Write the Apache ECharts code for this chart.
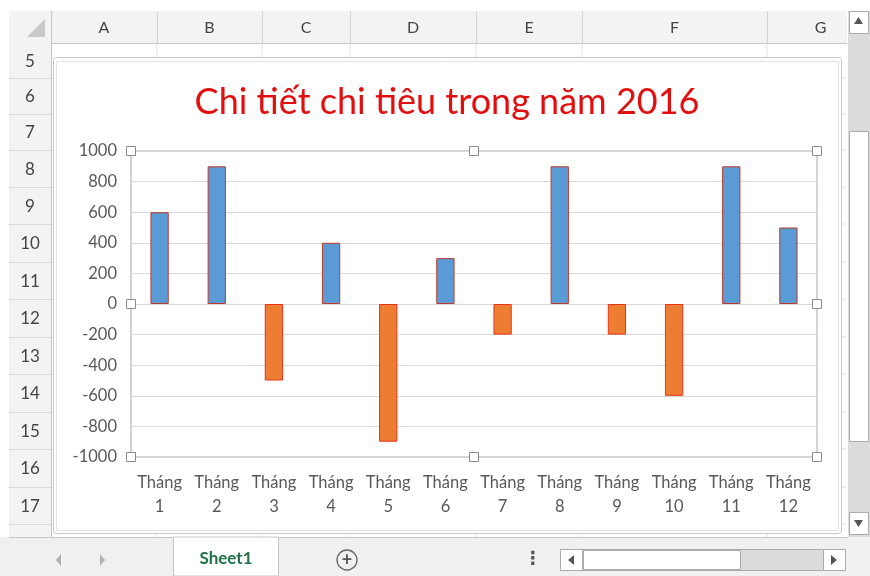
<!DOCTYPE html>
<html>
<head>
<meta charset="utf-8">
<script src="https://cdn.jsdelivr.net/npm/echarts@6/dist/echarts.min.js"></script>
<style>
  html, body { margin: 0; padding: 0; background: #fff; }
  #chart { width: 870px; height: 576px; }
</style>
</head>
<body>
<div id="chart"></div>
<script>
// du lieu bieu do
var months = ['Tháng\n1', 'Tháng\n2', 'Tháng\n3', 'Tháng\n4', 'Tháng\n5', 'Tháng\n6',
  'Tháng\n7', 'Tháng\n8', 'Tháng\n9', 'Tháng\n10', 'Tháng\n11', 'Tháng\n12'];
var values = [600, 900, -500, 400, -900, 300, -200, 900, -200, -600, 900, 500];
var chartTitle = 'Chi tiết chi tiêu trong năm 2016';

// khung bang tinh phia sau
var colNames = ['A', 'B', 'C', 'D', 'E', 'F', 'G'];
var rowNames = ['5', '6', '7', '8', '9', '10', '11', '12', '13', '14', '15', '16', '17'];
var sheetName = 'Sheet1';

var colEdges = [51, 157, 262, 350, 476, 582, 767, 846];
var rowEdges = [43, 78, 114, 150, 187, 224, 262, 299, 337, 374, 412, 449, 487, 524, 537];

var FONT = 'Lato, "Open Sans", sans-serif';

/**mau cot: duong xanh, am cam*/
var barData = values.map(function (v) {
  return {
    value: v,
    itemStyle: v >= 0
      ? { color: '#5B9BD5', borderColor: '#C0392B', borderWidth: 1 }
      : { color: '#ED7D31', borderColor: '#E8321A', borderWidth: 1 }
  };
});

var els = [];
// nen luoi o
for (var i = 1; i < colEdges.length - 1; i++) {
  els.push({ type: 'line', z: 0, shape: { x1: colEdges[i], y1: 43, x2: colEdges[i], y2: 537 },
    style: { stroke: '#E1E1E1', lineWidth: 1 } });
}
for (var j = 1; j < rowEdges.length - 1; j++) {
  els.push({ type: 'line', z: 0, shape: { x1: 51, y1: rowEdges[j], x2: 846, y2: rowEdges[j] },
    style: { stroke: '#E1E1E1', lineWidth: 1 } });
}
// tieu de cot
els.push({ type: 'rect', z: 1, shape: { x: 9, y: 11, width: 838, height: 32 },
  style: { fill: '#F3F3F3', stroke: null } });
els.push({ type: 'line', z: 1, shape: { x1: 9, y1: 43.5, x2: 847, y2: 43.5 },
  style: { stroke: '#C6C6C6', lineWidth: 1 } });
els.push({ type: 'polygon', z: 1, shape: { points: [[45, 19], [45, 37], [27, 37]] },
  style: { fill: '#C9C9C9' } });
for (var c = 0; c < colNames.length; c++) {
  els.push({ type: 'line', z: 1, shape: { x1: colEdges[c] + 0.5, y1: 11, x2: colEdges[c] + 0.5, y2: 43 },
    style: { stroke: '#D4D4D4', lineWidth: 1 } });
  els.push({ type: 'text', z: 2, style: {
    text: colNames[c], x: (colEdges[c] + colEdges[c + 1]) / 2 + (c === 6 ? 14 : 0), y: 28,
    textAlign: 'center', textVerticalAlign: 'middle', fill: '#444', font: '16px ' + FONT } });
}
// tieu de hang
els.push({ type: 'rect', z: 1, shape: { x: 9, y: 43, width: 42, height: 494 },
  style: { fill: '#F3F3F3', stroke: null } });
els.push({ type: 'line', z: 1, shape: { x1: 51.5, y1: 11, x2: 51.5, y2: 537 },
  style: { stroke: '#C6C6C6', lineWidth: 1 } });
for (var r = 0; r < rowEdges.length - 1; r++) {
  els.push({ type: 'line', z: 1, shape: { x1: 9, y1: rowEdges[r + 1] + 0.5, x2: 51, y2: rowEdges[r + 1] + 0.5 },
    style: { stroke: '#DADADA', lineWidth: 1 } });
  if (r < rowNames.length) {
    els.push({ type: 'text', z: 2, style: {
      text: rowNames[r], x: 30, y: (rowEdges[r] + rowEdges[r + 1]) / 2 + 1,
      textAlign: 'center', textVerticalAlign: 'middle', fill: '#444', font: '17px ' + FONT } });
  }
}
// thanh cuon doc
els.push({ type: 'rect', z: 1, shape: { x: 848, y: 11, width: 22, height: 526 },
  style: { fill: '#DCDCDC', stroke: null } });
els.push({ type: 'rect', z: 2, shape: { x: 849.5, y: 11.5, width: 19, height: 22 },
  style: { fill: '#fff', stroke: '#ABABAB' } });
els.push({ type: 'polygon', z: 3, shape: { points: [[854, 24], [863, 24], [858.5, 17]] },
  style: { fill: '#555' } });
els.push({ type: 'rect', z: 2, shape: { x: 849.5, y: 131.5, width: 19, height: 310 },
  style: { fill: '#fff', stroke: '#ABABAB' } });
els.push({ type: 'rect', z: 2, shape: { x: 849.5, y: 512.5, width: 19, height: 22 },
  style: { fill: '#fff', stroke: '#ABABAB' } });
els.push({ type: 'polygon', z: 3, shape: { points: [[854, 520], [863, 520], [858.5, 527]] },
  style: { fill: '#555' } });
// thanh duoi
els.push({ type: 'rect', z: 1, shape: { x: 0, y: 537, width: 870, height: 39 },
  style: { fill: '#F0F0F0', stroke: null } });
els.push({ type: 'line', z: 1, shape: { x1: 9, y1: 537.5, x2: 848, y2: 537.5 },
  style: { stroke: '#C6C6C6', lineWidth: 1 } });
els.push({ type: 'polygon', z: 2, shape: { points: [[61, 554], [61, 566], [56, 560]] },
  style: { fill: '#B0B0B0' } });
els.push({ type: 'polygon', z: 2, shape: { points: [[100, 554], [100, 566], [105, 560]] },
  style: { fill: '#B0B0B0' } });
els.push({ type: 'rect', z: 2, shape: { x: 173.5, y: 537, width: 105, height: 39 },
  style: { fill: '#fff', stroke: '#C6C6C6' } });
els.push({ type: 'text', z: 3, style: { text: sheetName, x: 226, y: 559,
  textAlign: 'center', textVerticalAlign: 'middle', fill: '#217346', font: 'bold 17px ' + FONT } });
els.push({ type: 'circle', z: 2, shape: { cx: 347, cy: 560, r: 10 },
  style: { fill: 'none', stroke: '#666', lineWidth: 1.3 } });
els.push({ type: 'text', z: 3, style: { text: '+', x: 347, y: 560,
  textAlign: 'center', textVerticalAlign: 'middle', fill: '#555', font: 'bold 18px ' + FONT } });
els.push({ type: 'text', z: 3, style: { text: '⋮', x: 533, y: 559,
  textAlign: 'center', textVerticalAlign: 'middle', fill: '#555', font: 'bold 18px "DejaVu Sans"' } });
els.push({ type: 'rect', z: 2, shape: { x: 560.5, y: 549.5, width: 285, height: 21 },
  style: { fill: '#DCDCDC', stroke: '#ABABAB' } });
els.push({ type: 'rect', z: 3, shape: { x: 560.5, y: 549.5, width: 22, height: 21 },
  style: { fill: '#fff', stroke: '#ABABAB' } });
els.push({ type: 'polygon', z: 4, shape: { points: [[574, 555], [574, 565], [568, 560]] },
  style: { fill: '#555' } });
els.push({ type: 'rect', z: 3, shape: { x: 583.5, y: 550.5, width: 157, height: 19 },
  style: { fill: '#fff', stroke: '#ABABAB' } });
els.push({ type: 'rect', z: 3, shape: { x: 823.5, y: 549.5, width: 22, height: 21 },
  style: { fill: '#fff', stroke: '#ABABAB' } });
els.push({ type: 'polygon', z: 4, shape: { points: [[831, 555], [831, 565], [837, 560]] },
  style: { fill: '#555' } });
// khung doi tuong bieu do
els.push({ type: 'rect', z: 5, shape: { x: 53.5, y: 57.5, width: 788, height: 476, r: 3 },
  style: { fill: '#fff', stroke: '#C8C8C8', lineWidth: 1 } });
els.push({ type: 'rect', z: 5, shape: { x: 56.5, y: 61.5, width: 782, height: 469 },
  style: { fill: 'none', stroke: '#E2E2E2', lineWidth: 1 } });
// nut chon vung ve
var hx = [131, 474, 817], hy = [151, 304, 457];
for (var a = 0; a < 3; a++) {
  for (var b = 0; b < 3; b++) {
    if (a === 1 && b === 1) continue;
    els.push({ type: 'rect', z: 200, shape: { x: hx[a] - 4.5, y: hy[b] - 4.5, width: 9, height: 9 },
      style: { fill: '#fff', stroke: '#8C8C8C', lineWidth: 1 } });
  }
}
// tieu de bieu do
els.push({ type: 'text', z: 100, style: { text: chartTitle, x: 447, y: 102,
  textAlign: 'center', textVerticalAlign: 'middle', fill: '#E30E0E', font: '36px ' + FONT } });

var chart = echarts.init(document.getElementById('chart'));
chart.setOption({
  animation: false,
  backgroundColor: '#fff',
  graphic: { elements: els },
  grid: { left: 131, right: 53, top: 151, bottom: 119, show: true, borderColor: '#A6A6A6',
    borderWidth: 1, z: 10, containLabel: false },
  xAxis: {
    type: 'category', data: months, z: 10,
    axisLine: { show: false, onZero: false },
    axisTick: { show: false },
    axisLabel: { color: '#595959', fontFamily: FONT, fontSize: 16.5, lineHeight: 24, margin: 14, interval: 0 }
  },
  yAxis: {
    type: 'value', min: -1000, max: 1000, interval: 200, z: 10,
    axisLine: { show: false }, axisTick: { show: false },
    axisLabel: { color: '#595959', fontFamily: FONT, fontSize: 16.5, margin: 14,
      formatter: function (v) { return String(v); } },
    splitLine: { lineStyle: { color: '#D9D9D9', width: 1 } }
  },
  series: [{
    type: 'bar', data: barData, barWidth: '32%', z: 20
  }]
});
</script>
</body>
</html>
